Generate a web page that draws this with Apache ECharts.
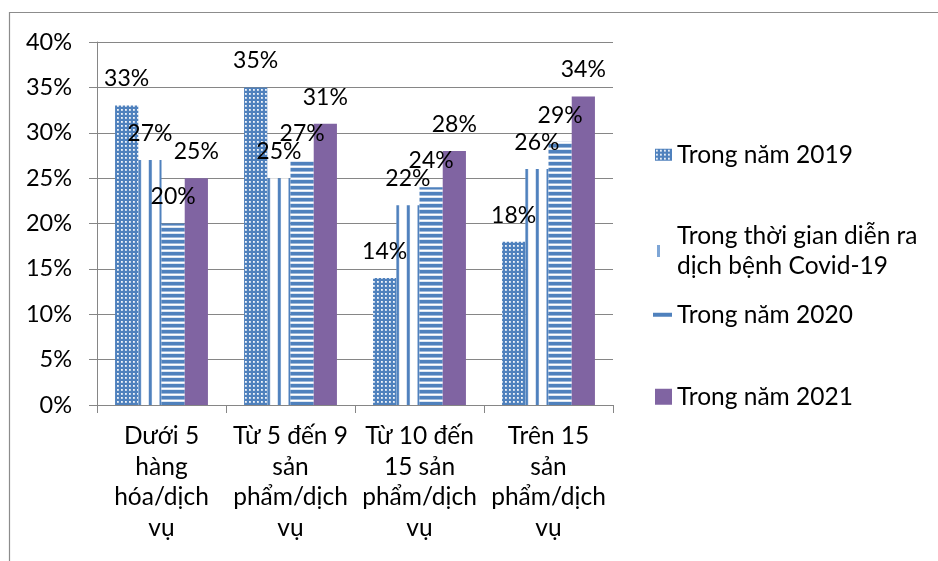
<!DOCTYPE html>
<html>
<head>
<meta charset="utf-8">
<script src="https://cdn.jsdelivr.net/npm/echarts@6/dist/echarts.min.js"></script>
<style>
  html, body { margin: 0; padding: 0; background: #fff; }
  #chart { width: 938px; height: 561px; }
</style>
</head>
<body>
<div id="chart"></div>
<script>
// Category labels (line-broken as they appear under the axis)
const categories = [
  'Dưới 5\nhàng\nhóa/dịch\nvụ',
  'Từ 5 đến 9\nsản\nphẩm/dịch\nvụ',
  'Từ 10 đến\n15 sản\nphẩm/dịch\nvụ',
  'Trên 15\nsản\nphẩm/dịch\nvụ'
];

// Series names
const name2019 = 'Trong năm 2019';
const nameCovid = 'Trong thời gian diễn ra\ndịch bệnh Covid-19';
const name2020 = 'Trong năm 2020';
const name2021 = 'Trong năm 2021';

// Shares of businesses (%)
const values2019 = [33, 35, 14, 18];
const valuesCovid = [27, 25, 22, 26];
const values2020 = [20, 27, 24, 29];
const values2021 = [25, 31, 28, 34];

// Value axis ticks (%)
const yMin = 0;
const yMax = 40;
const yStep = 5;

const BLUE = '#4F81BD';
const PURPLE = '#8064A2';
const GREY = '#868686';
const FONT = 'Lato';

function makeCanvas(w, h, draw) {
  const c = document.createElement('canvas');
  c.width = w; c.height = h;
  draw(c.getContext('2d'));
  return c;
}

// Dotted fill: blue ground with small light dots
const dotCanvas = makeCanvas(4, 4, function (ctx) {
  ctx.fillStyle = BLUE; ctx.fillRect(0, 0, 4, 4);
  ctx.fillStyle = '#9DB8DA'; ctx.fillRect(1, 1, 2, 2);
  ctx.fillStyle = '#F2F6FB'; ctx.fillRect(1, 1, 1.6, 1.6);
});

// Wide vertical lines on white
const vPeriod = 10.75, vPhase = 9.3, vW = 43;
const vLineCanvas = makeCanvas(vW, 2, function (ctx) {
  ctx.fillStyle = '#fff'; ctx.fillRect(0, 0, vW, 2);
  for (let k = 0; k < 4; k++) {
    const x = vPhase + k * vPeriod;
    [x - vW, x, x + vW].forEach(function (xx) {
      ctx.fillStyle = '#A9C1E0'; ctx.fillRect(xx - 0.5, 0, 3.5, 2);
      ctx.fillStyle = BLUE; ctx.fillRect(xx, 0, 2.5, 2);
    });
  }
});

// Horizontal stripes
const hLineCanvas = makeCanvas(2, 6, function (ctx) {
  ctx.fillStyle = '#fff'; ctx.fillRect(0, 0, 2, 6);
  ctx.fillStyle = BLUE; ctx.fillRect(0, 0, 2, 3);
  ctx.fillStyle = '#9DB8DA'; ctx.fillRect(0, 3, 2, 1);
  ctx.fillStyle = '#DCE6F2'; ctx.fillRect(0, 5, 2, 1);
});

const pattern = function (c) { return { image: c, repeat: 'repeat' }; };

const labelStyle = {
  show: true,
  position: 'top',
  distance: 15,
  formatter: '{c}%',
  color: '#000',
  fontFamily: FONT,
  fontSize: 23,
  textBorderWidth: 0
};

function barSeries(name, data, color) {
  return {
    name: name,
    type: 'bar',
    data: data,
    barGap: '0%',
    barCategoryGap: '28%',
    itemStyle: { color: color },
    label: labelStyle,
    emphasis: { disabled: true },
    z: 2
  };
}

const legendText = { fontFamily: FONT, fontSize: 24.5, color: '#000', lineHeight: 29.5 };
function legendFor(item, top, w, h, left) {
  return {
    data: [item],
    orient: 'vertical',
    left: left,
    top: top,
    padding: 0,
    itemWidth: w,
    itemHeight: h,
    itemGap: 0,
    selectedMode: false,
    textStyle: legendText
  };
}

const chart = echarts.init(document.getElementById('chart'), null, { renderer: 'canvas' });

chart.setOption({
  animation: false,
  backgroundColor: '#fff',
  textStyle: { fontFamily: FONT },
  grid: { left: 97, top: 42, width: 516, height: 363, containLabel: false },
  xAxis: {
    type: 'category',
    data: categories,
    axisLine: { show: true, lineStyle: { color: GREY, width: 1 } },
    axisTick: { show: true, length: 8, lineStyle: { color: GREY } },
    axisLabel: {
      interval: 0,
      margin: 16,
      color: '#000',
      fontFamily: FONT,
      fontSize: 24.5,
      lineHeight: 30.5,
      align: 'center'
    },
    splitLine: { show: false }
  },
  yAxis: {
    type: 'value',
    min: yMin,
    max: yMax,
    interval: yStep,
    axisLine: { show: true, lineStyle: { color: GREY, width: 1 } },
    axisTick: { show: true, length: 8, lineStyle: { color: GREY } },
    axisLabel: {
      formatter: '{value}%',
      margin: 25,
      color: '#000',
      fontFamily: FONT,
      fontSize: 23.5
    },
    splitLine: { show: true, lineStyle: { color: GREY, width: 1 } }
  },
  legend: [
    legendFor({ name: name2019, icon: 'rect' }, 140, 17, 12, 655),
    legendFor({ name: nameCovid, icon: 'path://M0,0M17,12M2,0h3v12h-3z', itemStyle: { color: '#7EA6D6' } }, 221.5, 17, 12, 655),
    legendFor({ name: name2020, icon: 'rect', itemStyle: { color: BLUE } }, 300, 19, 4, 653),
    legendFor({ name: name2021, icon: 'rect' }, 382, 17, 16, 655)
  ],
  graphic: [{
    type: 'polyline',
    silent: true,
    shape: { points: [[9.5, 561], [9.5, 12.5], [938, 12.5]] },
    style: { stroke: '#8C8C8C', lineWidth: 1.2, fill: null }
  }],
  series: [
    barSeries(name2019, values2019, pattern(dotCanvas)),
    barSeries(nameCovid, valuesCovid, pattern(vLineCanvas)),
    barSeries(name2020, values2020, pattern(hLineCanvas)),
    barSeries(name2021, values2021, PURPLE)
  ]
});
</script>
</body>
</html>
